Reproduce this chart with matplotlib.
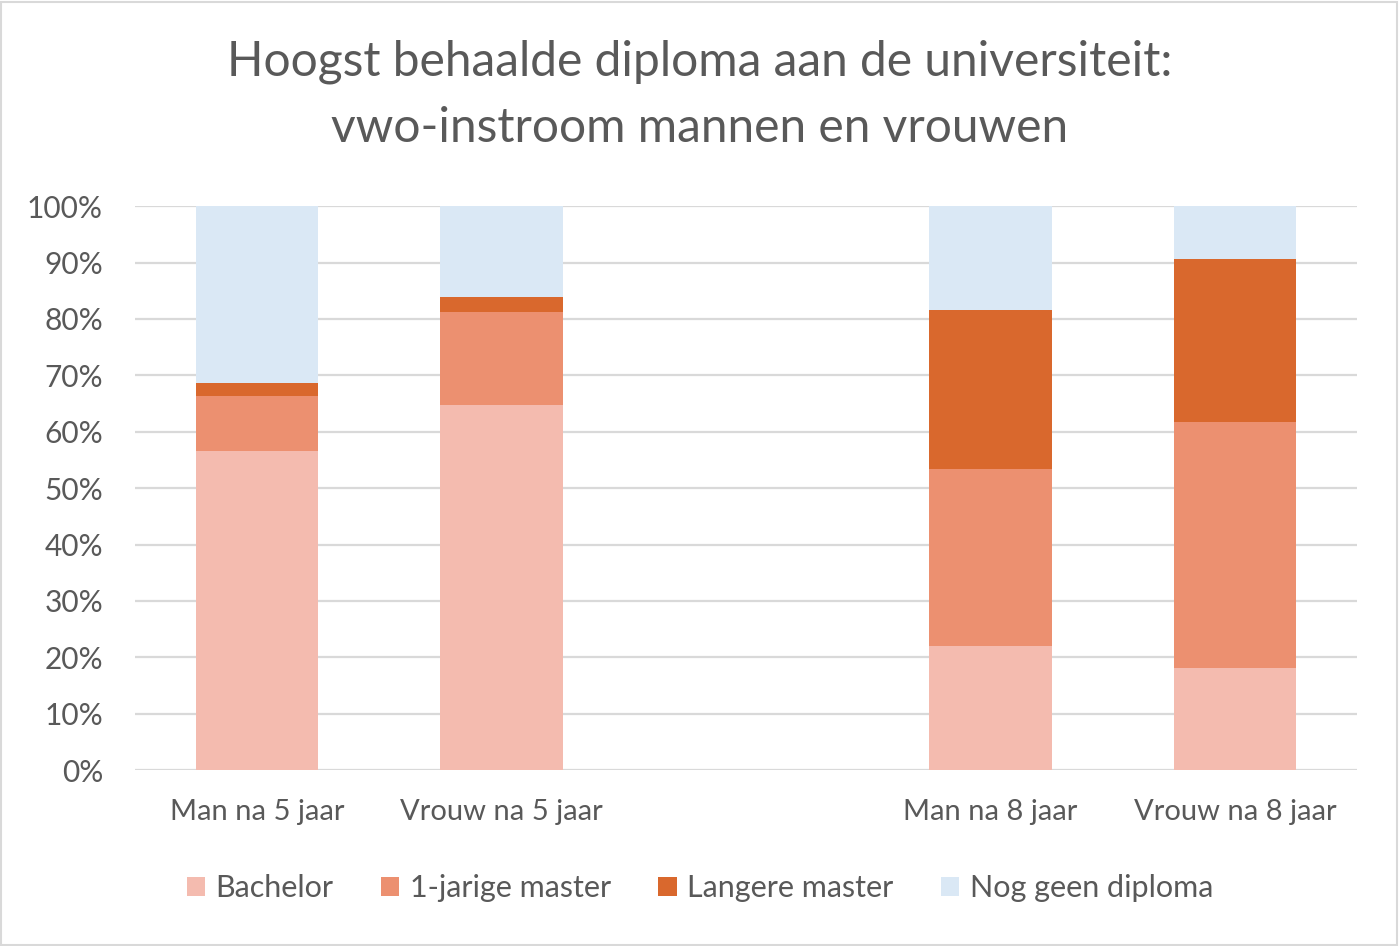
import numpy as np
import matplotlib
matplotlib.use('Agg')
import matplotlib.pyplot as plt
from matplotlib.patches import Rectangle

plt.rcParams['font.family'] = ['Lato', 'DejaVu Sans']

# data (percentages)
categories = ['Man na 5 jaar', 'Vrouw na 5 jaar', '', 'Man na 8 jaar', 'Vrouw na 8 jaar']
bachelor = [56.6, 64.7, 0, 22.0, 18.1]
master_1jr = [9.7, 16.5, 0, 31.4, 43.6]
master_lang = [2.3, 2.7, 0, 28.2, 28.9]
nog_geen = [31.4, 16.1, 0, 18.4, 9.4]
series_names = ['Bachelor', '1-jarige master', 'Langere master', 'Nog geen diploma']
yticks = np.arange(0, 101, 10)

colours = ['#F4BBAF', '#EC9070', '#D9682D', '#DAE8F5']
text_col = '#595959'

fig = plt.figure(figsize=(14, 9.46), dpi=100)
ax = fig.add_axes([0.0964, 0.186, 0.8729, 0.596])

x = np.arange(len(categories))
empty = [i for i, c in enumerate(categories) if c == '']
bottom = np.zeros(len(categories))
for name, vals, col in zip(series_names, [bachelor, master_1jr, master_lang, nog_geen], colours):
    vals = np.array(vals, dtype=float)
    ax.bar(x, vals, 0.5, bottom=bottom, color=col, label=name, zorder=3, linewidth=0)
    bottom += vals

ax.set_xlim(-0.5, len(categories) - 0.5)
ax.set_ylim(0, 100)
ax.set_yticks(yticks)
ax.set_yticklabels(['{0}%'.format(t) for t in yticks])
ax.set_xticks([i for i in x if i not in empty])
ax.set_xticklabels([c for c in categories if c != ''])
ax.tick_params(axis='both', length=0, colors=text_col)
ax.tick_params(axis='y', pad=23, labelsize=21.5)
ax.tick_params(axis='x', pad=21, labelsize=21)
ax.grid(axis='y', color='#D9D9D9', linewidth=1.6, zorder=0)
for s in ax.spines.values():
    s.set_visible(False)

fig.text(0.5, 0.9, 'Hoogst behaalde diploma aan de universiteit:\nvwo-instroom mannen en vrouwen',
         ha='center', va='center', fontsize=34.5, color=text_col, linespacing=1.6)

handles, labels = ax.get_legend_handles_labels()
leg = fig.legend(handles, labels, loc='center', bbox_to_anchor=(0.5, 0.061), ncol=4,
                 frameon=False, fontsize=22, handlelength=0.6, handleheight=0.6,
                 handletextpad=0.35, columnspacing=1.55, labelcolor=text_col)

fig.patches.append(Rectangle((0.001, 0.001), 0.997, 0.997, transform=fig.transFigure,
                             fill=False, edgecolor='#D9D9D9', linewidth=1.5))

fig.savefig('out.png', dpi=100, facecolor='white')
